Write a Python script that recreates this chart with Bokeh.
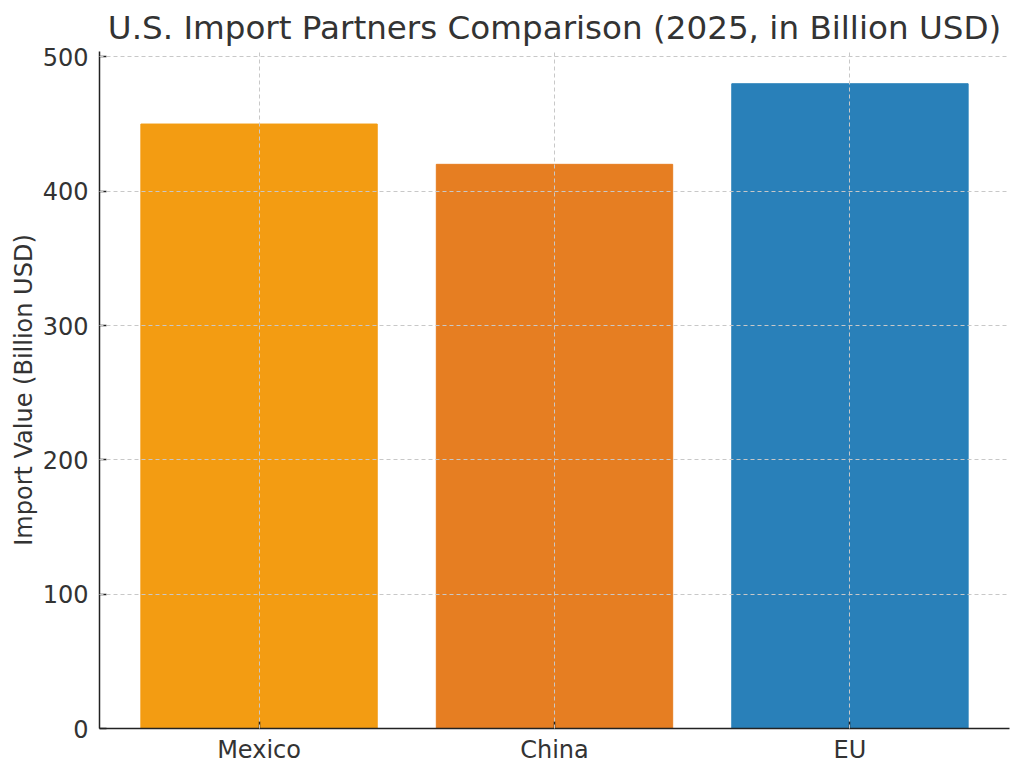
from bokeh.plotting import figure
from bokeh.models import FactorRange, Range1d, SingleIntervalTicker, ColumnDataSource
from bokeh.embed import file_html
from bokeh.resources import INLINE

partners = ["Mexico", "China", "EU"]
imports = [450, 420, 480]
colors = ["#f39c12", "#e67e22", "#2980b9"]

source = ColumnDataSource(data=dict(partner=partners, value=imports, color=colors))

FONT = "DejaVu Sans"
INK = "#333333"

p = figure(x_range=FactorRange(factors=partners, range_padding=0.04,
                               range_padding_units="absolute"),
           y_range=Range1d(0, 504),
           frame_width=910, frame_height=677,
           min_border_left=99, min_border_right=6,
           min_border_top=51, min_border_bottom=36,
           title="U.S. Import Partners Comparison (2025, in Billion USD)",
           y_axis_label="Import Value (Billion USD)",
           output_backend="svg", toolbar_location=None)

p.vbar(x="partner", top="value", width=0.8, color="color", source=source)

p.title.text_font = FONT
p.title.text_font_size = "32.6px"
p.title.text_font_style = "normal"
p.title.text_color = INK
p.title.align = "center"

p.outline_line_color = None
p.background_fill_color = "white"
p.border_fill_color = "white"

p.yaxis.ticker = SingleIntervalTicker(interval=100)
for ax in (p.xaxis, p.yaxis):
    ax.axis_line_color = "#222222"
    ax.axis_line_width = 1.5
    ax.major_tick_line_color = "#222222"
    ax.major_tick_line_width = 1.5
    ax.major_tick_in = 7
    ax.major_tick_out = 0
    ax.minor_tick_line_color = None
    ax.major_label_text_font = FONT
    ax.major_label_text_font_size = "24px"
    ax.major_label_text_color = INK
    ax.major_label_standoff = 7
    ax.axis_label_text_font = FONT
    ax.axis_label_text_font_size = "24px"
    ax.axis_label_text_font_style = "normal"
    ax.axis_label_text_color = INK
p.yaxis.axis_label_standoff = 2

for g in (p.xgrid, p.ygrid):
    g.grid_line_color = "#c8c8c8"
    g.grid_line_dash = "4 3"
    g.grid_line_width = 1
    g.level = "overlay"

open("out.html", "w").write(file_html(p, INLINE))
